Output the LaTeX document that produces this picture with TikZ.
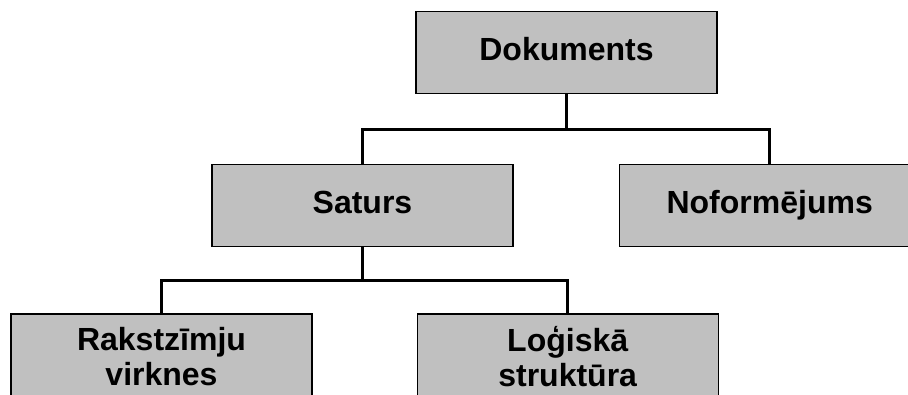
\documentclass[tikz,border=0pt]{standalone}
\usepackage{fontspec}
\setmainfont{Liberation Sans}
\usepackage{tikz}
\usetikzlibrary{positioning}
\definecolor{boxgray}{HTML}{C0C0C0}

\begin{document}
\begin{tikzpicture}[x=1pt,y=1pt,node distance=1cm,
  block/.style={draw,line width=1.2pt,fill=boxgray,minimum width=301pt,
    minimum height=82pt,inner sep=0pt,align=center,
    font=\fontsize{32}{35}\selectfont\bfseries},
  oneline/.style={text height=23pt,text depth=7pt},
  link/.style={line width=3pt}]
\useasboundingbox (0,0) rectangle (908,-394);
\clip (0,0) rectangle (908,-394);
% the root (ID=dok)
\node[block,oneline] (dok) at (566.5,-52.5) {Dokuments};
% 2nd level
\node[block,oneline] (saturs) at (362.5,-205.5) {Saturs};
\node[block,oneline] (nof) [right = 105pt of saturs] {Noformējums};
% 3rd level, below Saturs (cut off at the bottom)
\node[block,minimum height=86pt] (rakst) at (161.5,-357) {Rakstzīmju\\virknes};
\node[block,minimum height=86pt] (logiska) [right = 104pt of rakst] {Loģiskā\\struktūra};
\draw[link] (dok.south) -- +(0,-35) -| (saturs.north);
\draw[link] (dok.south) -- +(0,-35) -| (nof.north);
\draw[link] (saturs.south) -- +(0,-33) -| (rakst.north);
\draw[link] (saturs.south) -- +(0,-33) -| (logiska.north);
\end{tikzpicture}
\end{document}
